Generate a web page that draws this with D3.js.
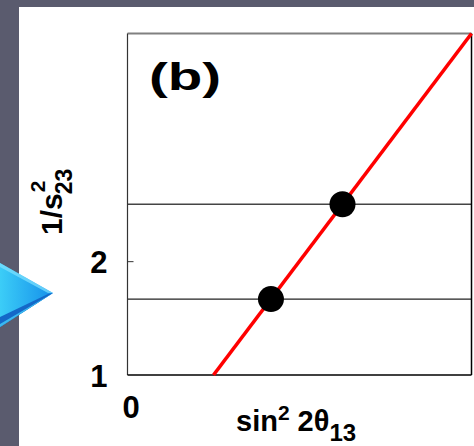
<!DOCTYPE html>
<html>
<head>
<meta charset="utf-8">
<script src="https://cdn.jsdelivr.net/npm/d3@7"></script>
<style>
  html, body { margin: 0; padding: 0; background: #5a5b6e; }
  svg { display: block; }
  text { font-family: "Liberation Sans", Arial, sans-serif; font-weight: bold; fill: #000; }
</style>
</head>
<body>
<svg id="chart" width="474" height="446"></svg>
<script>
// ---- data ----
const xDomain = [0, 1];
const yDomain = [1, 4];
const xTickValues = [0];
const xTickLabels = ["0"];
const yTickValues = [1, 2];
const yTickLabels = ["1", "2"];
const refLevels = [2.5, 1.667];          // horizontal reference lines (1/s23^2)
const pointX = [0.417, 0.625];
const pointY = [1.667, 2.5];
const fitX = [0.25, 1.0];
const fitY = [1.0, 4.0];
const panelLabel = "(b)";

// ---- layout ----
const svg = d3.select("#chart");
const W = 474, H = 446;
const plot = { left: 127.5, right: 471.5, top: 33.5, bottom: 375 };

// background
svg.append("rect").attr("width", W).attr("height", H).attr("fill", "#5a5b6e");
svg.append("rect").attr("x", 19).attr("y", 7).attr("width", W - 19).attr("height", H - 7).attr("fill", "#ffffff");

// decorative blue arrow at left
const defs = svg.append("defs");
const grad = defs.append("linearGradient").attr("id", "arrowGrad")
  .attr("x1", "0%").attr("y1", "0%").attr("x2", "100%").attr("y2", "0%");
grad.append("stop").attr("offset", "0%").attr("stop-color", "#3ccdf7");
grad.append("stop").attr("offset", "100%").attr("stop-color", "#1590ea");
svg.append("path").attr("d", "M0,263 L53,293 L0,327 Z").attr("fill", "url(#arrowGrad)");
svg.append("path").attr("d", "M0,263 L53,293 L48,293 L0,267 Z").attr("fill", "#7fe3ff").attr("opacity", 0.7);
svg.append("path").attr("d", "M0,317 L48,294 L53,293 L0,327 Z").attr("fill", "#1468c8");
svg.append("path").attr("d", "M0,324 L53,293 L0,327 Z").attr("fill", "#3ab8f0");

const x = d3.scaleLinear().domain(xDomain).range([plot.left, plot.right]);
const y = d3.scaleLinear().domain(yDomain).range([plot.bottom, plot.top]);

// reference lines
svg.append("g").selectAll("line").data(refLevels).join("line")
  .attr("x1", plot.left).attr("x2", plot.right)
  .attr("y1", d => y(d)).attr("y2", d => y(d))
  .attr("stroke", (d, i) => i === 0 ? "#444" : "#222")
  .attr("stroke-width", 1.3);

// frame
svg.append("line").attr("x1", plot.left).attr("x2", plot.right).attr("y1", plot.top).attr("y2", plot.top)
  .attr("stroke", "#808080").attr("stroke-width", 2);
svg.append("line").attr("x1", plot.left).attr("x2", plot.left).attr("y1", plot.top).attr("y2", plot.bottom)
  .attr("stroke", "#333").attr("stroke-width", 1.2);
svg.append("line").attr("x1", plot.right).attr("x2", plot.right).attr("y1", plot.top).attr("y2", plot.bottom)
  .attr("stroke", "#000").attr("stroke-width", 1.5);
svg.append("line").attr("x1", plot.left).attr("x2", plot.right).attr("y1", plot.bottom).attr("y2", plot.bottom)
  .attr("stroke", "#000").attr("stroke-width", 1.5);

// y axis
const yAxis = d3.axisLeft(y).tickValues(yTickValues).tickFormat((d, i) => yTickLabels[i])
  .tickSize(-6).tickPadding(20);
const gy = svg.append("g").attr("transform", `translate(${plot.left},0)`).call(yAxis);
gy.select(".domain").remove();
gy.selectAll(".tick line").attr("stroke", "#333").attr("stroke-width", 1)
  .attr("display", d => d === yDomain[0] ? "none" : null);
gy.selectAll(".tick text").attr("font-size", 31).attr("font-family", null).attr("dy", "0.36em").attr("fill", "#000");

// x axis
const xAxis = d3.axisBottom(x).tickValues(xTickValues).tickFormat((d, i) => xTickLabels[i])
  .tickSize(0).tickPadding(21);
const gx = svg.append("g").attr("transform", `translate(0,${plot.bottom})`).call(xAxis);
gx.select(".domain").remove();
gx.selectAll(".tick text").attr("font-size", 31).attr("font-family", null).attr("dx", 3).attr("fill", "#000");

// fit line
svg.append("path")
  .datum(fitX.map((v, i) => [v, fitY[i]]))
  .attr("d", d3.line().x(d => x(d[0])).y(d => y(d[1])))
  .attr("fill", "none").attr("stroke", "#ff0000").attr("stroke-width", 3.6);

// points
svg.append("g").selectAll("circle").data(pointX).join("circle")
  .attr("cx", d => x(d)).attr("cy", (d, i) => y(pointY[i])).attr("r", 13).attr("fill", "#000");

// panel label
svg.append("text").attr("transform", "translate(149,90) scale(1.45,1)")
  .attr("font-size", 39).text(panelLabel);

// x label: sin^2 2θ_13
const xl = svg.append("text").attr("x", 236).attr("y", 431).attr("font-size", 29);
xl.append("tspan").text("sin");
xl.append("tspan").attr("font-size", 21).attr("dy", -11).text("2");
xl.append("tspan").attr("dy", 11).attr("dx", 8).text("2θ");
xl.append("tspan").attr("font-size", 24).attr("dy", 10).text("13");

// y label: 1/s^2_23 (rotated)
const yl = svg.append("g").attr("transform", "translate(62,235) rotate(-90)");
const mainT = yl.append("text").attr("x", 0).attr("y", 0).attr("font-size", 30).text("1/s");
const mw = mainT.node().getComputedTextLength();
yl.append("text").attr("x", mw + 1).attr("y", -17).attr("font-size", 21).text("2");
yl.append("text").attr("x", mw - 1).attr("y", 10).attr("font-size", 23).text("23");
</script>
</body>
</html>
